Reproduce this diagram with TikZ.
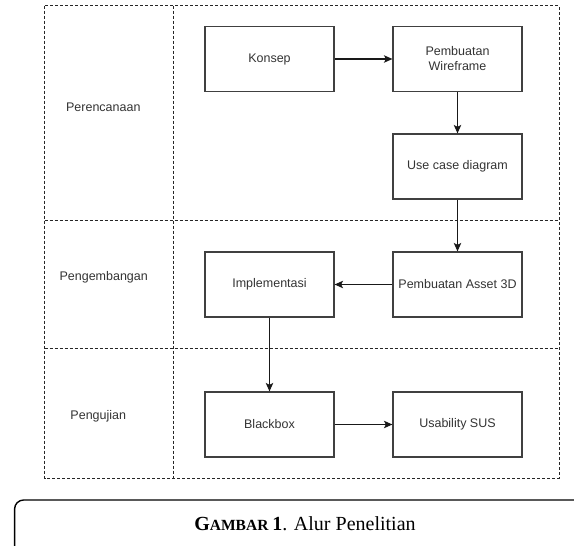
\documentclass[tikz,border=0pt]{standalone}
\usepackage{fontspec}
\setmainfont{Liberation Sans}
\newfontfamily\capfont{Liberation Serif}
\usetikzlibrary{arrows.meta}

\begin{document}
\begin{tikzpicture}[x=1pt, y=-1pt,
		lane/.style={black!85, line width=0.9pt, dash pattern=on 3pt off 2pt},
		stepbox/.style={draw=black!75, line width=1.2pt, minimum width=129pt, minimum height=65pt, inner sep=0pt, align=center, text=black!80, font=\fontsize{12.5}{15}\selectfont},
		lanelabel/.style={text=black!80, font=\fontsize{12.5}{15}\selectfont},
		flow/.style={draw=black!90, line width=1.1pt, -{Stealth[length=8.5pt,width=7.5pt,inset=2pt]}}]
			%%%%% START %%%%%
			
			\useasboundingbox (0, 0) rectangle (574, 546);
			
			% lanes
			\draw[lane] (44.7, 5.7) rectangle (559, 478);
			\draw[lane] (173, 5.7) -- (173, 478);
			\draw[lane] (44.7, 220) -- (559, 220);
			\draw[lane] (44.7, 348) -- (559, 348);
			
			\node[lanelabel] (perencanaan) at (103.3, 107) {Perencanaan};
			\node[lanelabel] (pengembangan) at (103.7, 277) {Pengembangan};
			\node[lanelabel] (pengujian) at (98.3, 416.5) {Pengujian};
			
			% steps
			\node[stepbox] (konsep) at (269.5, 59) {Konsep};
			\node[stepbox] (wireframe) at (457.5, 59) {Pembuatan\\Wireframe};
			\node[stepbox] (usecase) at (457.5, 166.5) {Use case diagram};
			\node[stepbox] (asset) at (457.5, 284.5) {Pembuatan Asset 3D};
			\node[stepbox] (implementasi) at (269.5, 284.5) {Implementasi};
			\node[stepbox] (blackbox) at (269.5, 424.5) {Blackbox};
			\node[stepbox] (usability) at (457.5, 424.5) {Usability SUS};
			
			\draw[flow] (konsep) -- (wireframe);
			\draw[flow] (wireframe) -- (usecase);
			\draw[flow] (usecase) -- (asset);
			\draw[flow] (asset) -- (implementasi);
			\draw[flow] (implementasi) -- (blackbox);
			\draw[flow] (blackbox) -- (usability);
			
			% caption
			\draw[line width=1.4pt, rounded corners=9pt] (14.6, 500) rectangle (600, 570);
			\node[anchor=base, font=\capfont\fontsize{20}{24}\selectfont] (caption) at (305, 530)
				{{\bfseries G\fontsize{15.5}{18}\selectfont AMBAR \fontsize{20}{24}\selectfont 1}. Alur Penelitian};
			
			%%%%% END %%%%%
		\end{tikzpicture}
\end{document}
